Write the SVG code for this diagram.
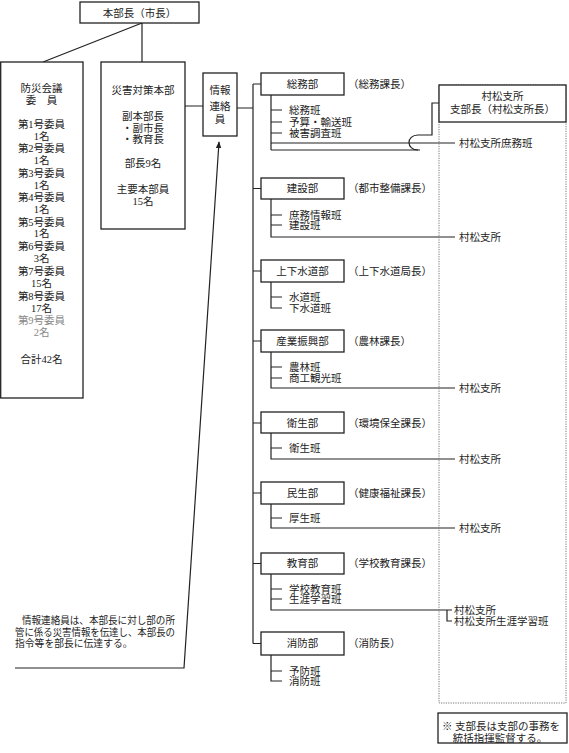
<svg xmlns="http://www.w3.org/2000/svg" width="569" height="753" viewBox="0 0 569 753">
<style>
.ln{stroke:#222;stroke-width:1.2;fill:none}
.box{fill:#fff;stroke:#222;stroke-width:1.3}
.dot{fill:none;stroke:#777;stroke-width:1;stroke-dasharray:1.2 1.2}
.t{font-family:"Liberation Serif","Noto Sans CJK JP",serif;font-size:10.5px;fill:#222;dominant-baseline:central}
.c{text-anchor:middle}
.g{fill:#888}
.s{font-size:9.8px}
</style>
<defs>
<marker id="ah" viewBox="0 0 10 10" refX="9" refY="5" markerWidth="7" markerHeight="7" orient="auto-start-reverse" markerUnits="userSpaceOnUse">
<path d="M0,1 L10,5 L0,9 Z" fill="#222"/>
</marker>
</defs>
<rect width="569" height="753" fill="#fff"/>

<g id="connectors">
<path class="ln" d="M142,23 V62 M142,23 L43,62"/>
<path class="ln" d="M185,106 H203 M237,108 H253 M253,84 V643.5"/>
<path class="ln" d="M253,84 H261 M253,188.5 H261 M253,271 H261 M253,341 H261 M253,423 H261 M253,493 H261 M253,563.5 H261 M253,643.5 H261"/>
<!-- 総務部 -->
<path class="ln" d="M271,95 V150 M271,110 H282 M271,122 H282 M271,133 H282 M271,143 H455 M271,150 H420"/>
<path class="ln" d="M439,103 H432 V135 H418 C406,135 406,150 418,150"/>
<!-- 建設部 -->
<path class="ln" d="M271,199 V237 H455 M271,215 H282 M271,225 H282"/>
<!-- 上下水道部 -->
<path class="ln" d="M271,282 V308 H282 M271,297 H282"/>
<!-- 産業振興部 -->
<path class="ln" d="M271,352 V388 H455 M271,367 H282 M271,378 H282"/>
<!-- 衛生部 -->
<path class="ln" d="M271,433 V459 H455 M271,448 H282"/>
<!-- 民生部 -->
<path class="ln" d="M271,504 V528 H455 M271,518 H282"/>
<!-- 教育部 -->
<path class="ln" d="M271,574 V610 H452 M447,610 V621 H452 M271,589 H282 M271,599 H282"/>
<!-- 消防部 -->
<path class="ln" d="M271,655 V681 H282 M271,671 H282"/>
<!-- note arrow -->
<path class="ln" d="M15,668 H184 L219,142" marker-end="url(#ah)"/>
</g>

<g id="honbucho">
<rect class="box" x="80" y="2" width="119" height="21"/>
<text class="t c" x="139.5" y="13">本部長（市長）</text>
</g>

<g id="bousai">
<rect class="box" x="0.7" y="62" width="82.3" height="336"/>
<text class="t c" x="41.5" y="88">防災会議</text>
<text class="t c" x="41.5" y="100">委　員</text>
<text class="t c" x="41.5" y="124">第1号委員</text>
<text class="t c" x="41.5" y="136">1名</text>
<text class="t c" x="41.5" y="148.5">第2号委員</text>
<text class="t c" x="41.5" y="160.5">1名</text>
<text class="t c" x="41.5" y="173">第3号委員</text>
<text class="t c" x="41.5" y="185">1名</text>
<text class="t c" x="41.5" y="197">第4号委員</text>
<text class="t c" x="41.5" y="209">1名</text>
<text class="t c" x="41.5" y="222">第5号委員</text>
<text class="t c" x="41.5" y="233.5">1名</text>
<text class="t c" x="41.5" y="246">第6号委員</text>
<text class="t c" x="41.5" y="258.5">3名</text>
<text class="t c" x="41.5" y="271">第7号委員</text>
<text class="t c" x="41.5" y="283">15名</text>
<text class="t c" x="41.5" y="296">第8号委員</text>
<text class="t c" x="41.5" y="308">17名</text>
<text class="t c g" x="41.5" y="320">第9号委員</text>
<text class="t c g" x="41.5" y="332">2名</text>
<text class="t c" x="41.5" y="359">合計42名</text>
</g>

<g id="saigai">
<rect class="box" x="101" y="62" width="84" height="167"/>
<text class="t c" x="143" y="90">災害対策本部</text>
<text class="t c" x="143" y="116">副本部長</text>
<text class="t c" x="143" y="128">・副市長</text>
<text class="t c" x="143" y="139">・教育長</text>
<text class="t c" x="143" y="163">部長9名</text>
<text class="t c" x="143" y="189">主要本部員</text>
<text class="t c" x="143" y="201">15名</text>
</g>

<g id="johorenraku">
<rect class="box" x="203" y="73" width="34" height="63"/>
<text class="t c" x="220" y="90">情報</text>
<text class="t c" x="220" y="106">連絡</text>
<text class="t c" x="220" y="119">員</text>
</g>

<g id="soumu">
<rect class="box" x="261" y="73" width="83" height="22"/>
<text class="t c" x="302.5" y="84">総務部</text>
<text class="t" x="348" y="84">（総務課長）</text>
<text class="t" x="289" y="110">総務班</text>
<text class="t" x="289" y="122">予算・輸送班</text>
<text class="t" x="289" y="133">被害調査班</text>
</g>

<g id="kensetsu">
<rect class="box" x="261" y="178" width="83" height="21"/>
<text class="t c" x="302.5" y="188.5">建設部</text>
<text class="t" x="348" y="188.5">（都市整備課長）</text>
<text class="t" x="289" y="215">庶務情報班</text>
<text class="t" x="289" y="225">建設班</text>
</g>

<g id="gesuido">
<rect class="box" x="261" y="260" width="83" height="22"/>
<text class="t c" x="302.5" y="271">上下水道部</text>
<text class="t" x="348" y="271">（上下水道局長）</text>
<text class="t" x="289" y="297">水道班</text>
<text class="t" x="289" y="308">下水道班</text>
</g>

<g id="sangyo">
<rect class="box" x="261" y="330" width="83" height="22"/>
<text class="t c" x="302.5" y="341">産業振興部</text>
<text class="t" x="348" y="341">（農林課長）</text>
<text class="t" x="289" y="367">農林班</text>
<text class="t" x="289" y="378">商工観光班</text>
</g>

<g id="eisei">
<rect class="box" x="261" y="412" width="83" height="21"/>
<text class="t c" x="302.5" y="423">衛生部</text>
<text class="t" x="348" y="423">（環境保全課長）</text>
<text class="t" x="289" y="448">衛生班</text>
</g>

<g id="minsei">
<rect class="box" x="261" y="482" width="83" height="22"/>
<text class="t c" x="302.5" y="493">民生部</text>
<text class="t" x="348" y="493">（健康福祉課長）</text>
<text class="t" x="289" y="518">厚生班</text>
</g>

<g id="kyoiku">
<rect class="box" x="261" y="553" width="83" height="21"/>
<text class="t c" x="302.5" y="563.5">教育部</text>
<text class="t" x="348" y="563.5">（学校教育課長）</text>
<text class="t" x="289" y="589">学校教育班</text>
<text class="t" x="289" y="599.5">生涯学習班</text>
</g>

<g id="shobo">
<rect class="box" x="261" y="632" width="83" height="23"/>
<text class="t c" x="302.5" y="643.5">消防部</text>
<text class="t" x="348" y="643.5">（消防長）</text>
<text class="t" x="289" y="671">予防班</text>
<text class="t" x="289" y="681">消防班</text>
</g>

<g id="muramatsu">
<rect class="dot" x="439" y="85" width="127" height="618"/>
<rect class="box" x="439" y="85" width="127" height="37"/>
<text class="t c" x="502.5" y="96.5">村松支所</text>
<text class="t c" x="502.5" y="109">支部長（村松支所長）</text>
<text class="t" x="459" y="143">村松支所庶務班</text>
<text class="t" x="459" y="237">村松支所</text>
<text class="t" x="459" y="388">村松支所</text>
<text class="t" x="459" y="459">村松支所</text>
<text class="t" x="459" y="528">村松支所</text>
<text class="t" x="454" y="610">村松支所</text>
<text class="t" x="454" y="621.5">村松支所生涯学習班</text>
</g>

<g id="note-branch">
<rect class="box" x="438" y="713" width="129" height="30"/>
<text class="t c" x="501" y="726.5">※  支部長は支部の事務を</text>
<text class="t c" x="500" y="738">統括指揮監督する。</text>
</g>

<g id="note-johorenraku">
<text class="t s" x="22" y="620" textLength="153" lengthAdjust="spacingAndGlyphs">情報連絡員は、本部長に対し部の所</text>
<text class="t s" x="15" y="632" textLength="160" lengthAdjust="spacingAndGlyphs">管に係る災害情報を伝達し、本部長の</text>
<text class="t s" x="15" y="643.5">指令等を部長に伝達する。</text>
</g>
</svg>
